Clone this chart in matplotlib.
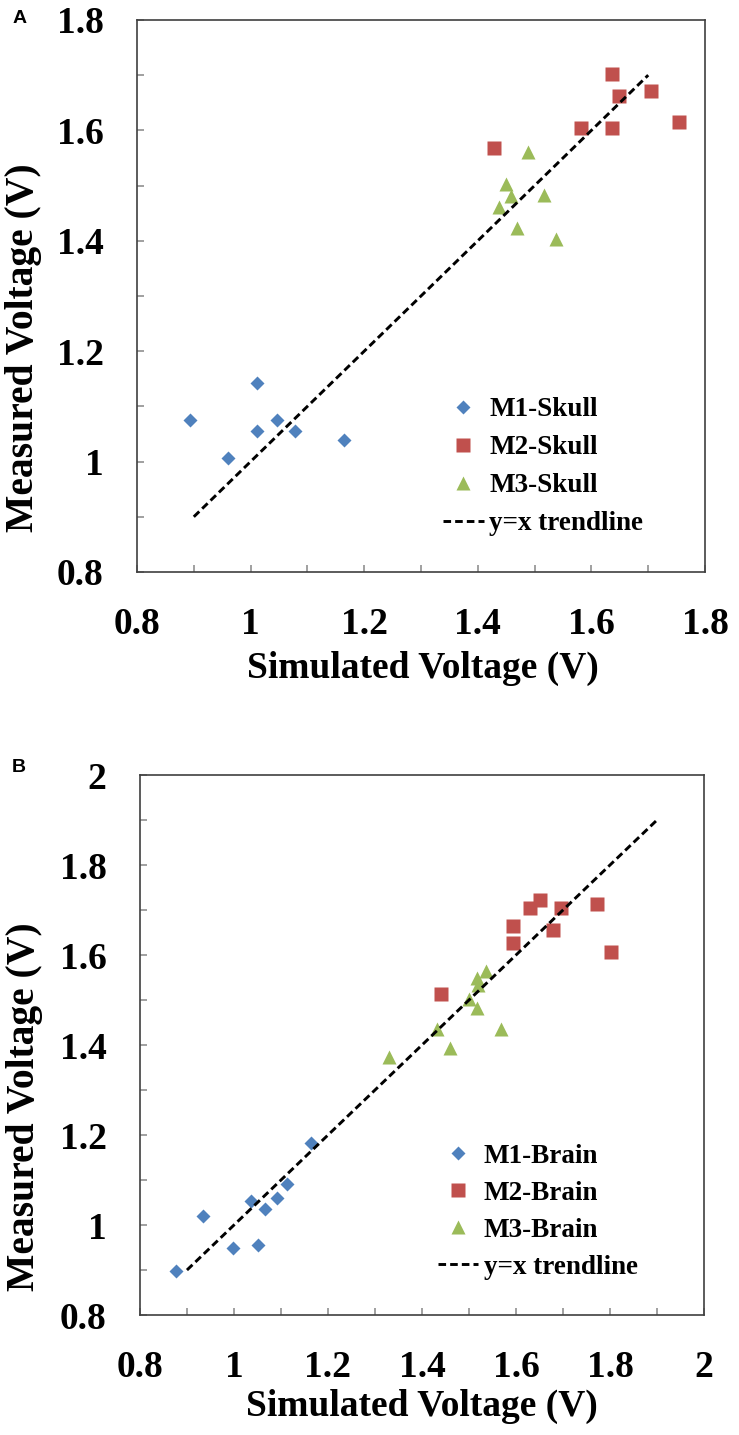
import matplotlib
matplotlib.use('Agg')
import matplotlib.pyplot as plt
from matplotlib.ticker import MultipleLocator, FuncFormatter

plt.rcParams['font.family'] = 'Liberation Serif'
plt.rcParams['font.weight'] = 'bold'

# Panel A: skull measurements
m1_skull_x = [0.893, 1.011, 0.961, 1.011, 1.046, 1.079, 1.164]
m1_skull_y = [1.075, 1.143, 1.006, 1.056, 1.075, 1.056, 1.040]
m2_skull_x = [1.429, 1.581, 1.637, 1.648, 1.637, 1.705, 1.754]
m2_skull_y = [1.568, 1.604, 1.702, 1.663, 1.604, 1.672, 1.615]
m3_skull_x = [1.488, 1.449, 1.458, 1.438, 1.517, 1.469, 1.537]
m3_skull_y = [1.560, 1.502, 1.481, 1.461, 1.482, 1.423, 1.403]
trend_a = [0.9, 1.7]

# Panel B: brain measurements
m1_brain_x = [0.876, 0.935, 0.997, 1.052, 1.037, 1.065, 1.092, 1.112, 1.164]
m1_brain_y = [0.897, 1.021, 0.950, 0.955, 1.054, 1.036, 1.060, 1.091, 1.182]
m2_brain_x = [1.440, 1.593, 1.593, 1.630, 1.651, 1.696, 1.679, 1.773, 1.802]
m2_brain_y = [1.513, 1.665, 1.627, 1.704, 1.723, 1.704, 1.656, 1.714, 1.607]
m3_brain_x = [1.330, 1.431, 1.460, 1.500, 1.517, 1.520, 1.537, 1.517, 1.568]
m3_brain_y = [1.374, 1.435, 1.393, 1.502, 1.549, 1.533, 1.565, 1.482, 1.435]
trend_b = [0.9, 1.9]

BLUE, RED, GREEN = '#4F81BD', '#C0504D', '#9BBB59'

fig = plt.figure(figsize=(7.39, 14.35), dpi=100)
ax_a = fig.add_axes([0.1854, 0.6014, 0.7686, 0.3847])
ax_b = fig.add_axes([0.1894, 0.0836, 0.7632, 0.3763])


def draw(ax, s1, s2, s3, trend, names, lim, leg_xy, leg_space, ylab_xy, xlab_xy):
    ax.plot(*s1, 'D', color=BLUE, ms=7.5, mec='none', label=names[0])
    ax.plot(*s2, 's', color=RED, ms=9.5, mec='none', label=names[1])
    ax.plot(*s3, '^', color=GREEN, ms=10, mec='none', label=names[2])
    ax.plot(trend, trend, color='black', lw=2.1, ls=(0, (2.6, 1.4)),
            label='y=x trendline')

    ax.set_xlim(*lim)
    ax.set_ylim(*lim)
    for axis in (ax.xaxis, ax.yaxis):
        axis.set_major_locator(MultipleLocator(0.2))
        axis.set_minor_locator(MultipleLocator(0.1))
        axis.set_major_formatter(FuncFormatter(lambda v, p: '%g' % round(v, 2)))
    ax.tick_params(which='both', direction='in', length=5, width=1.2,
                   color='#909090', labelsize=27)
    ax.tick_params(axis='y', which='both', pad=24)
    ax.tick_params(axis='x', which='both', pad=25)
    for sp in ax.spines.values():
        sp.set_color('#404040')
        sp.set_linewidth(1.2)

    ax.set_xlabel('Simulated Voltage (V)', fontsize=27, fontweight='bold')
    ax.set_ylabel('Measured Voltage (V)', fontsize=28.5, fontweight='bold')
    ax.xaxis.set_label_coords(*xlab_xy)
    ax.yaxis.set_label_coords(*ylab_xy)
    ax.xaxis.label.set_va('center')
    ax.yaxis.label.set_va('center')

    ax.legend(loc='upper left', bbox_to_anchor=leg_xy, frameon=False,
              fontsize=19.5, numpoints=1, handlelength=1.5,
              handletextpad=0.2, labelspacing=leg_space,
              borderpad=0, borderaxespad=0)


draw(ax_a, (m1_skull_x, m1_skull_y), (m2_skull_x, m2_skull_y),
     (m3_skull_x, m3_skull_y), trend_a,
     ['M1-Skull', 'M2-Skull', 'M3-Skull'], (0.8, 1.8),
     (0.539, 0.317), 0.48, (-0.2007, 0.406), (0.503, -0.174))
draw(ax_b, (m1_brain_x, m1_brain_y), (m2_brain_x, m2_brain_y),
     (m3_brain_x, m3_brain_y), trend_b,
     ['M1-Brain', 'M2-Brain', 'M3-Brain'], (0.8, 2.0),
     (0.528, 0.317), 0.44, (-0.204, 0.385), (0.5, -0.170))

fig.text(0.026, 0.987, 'A', family='Liberation Sans', fontweight='bold',
         fontsize=14, ha='center', va='center')
fig.text(0.026, 0.465, 'B', family='Liberation Sans', fontweight='bold',
         fontsize=14, ha='center', va='center')

fig.savefig('out.png', dpi=100)
